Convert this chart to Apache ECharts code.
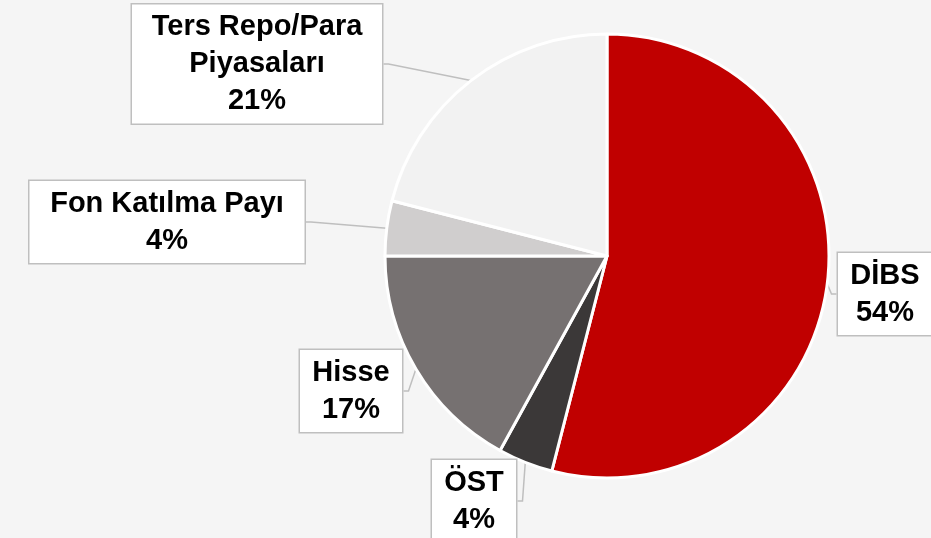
<!DOCTYPE html>
<html>
<head>
<meta charset="utf-8">
<script src="https://cdn.jsdelivr.net/npm/echarts@6/dist/echarts.min.js"></script>
<style>
html,body{margin:0;padding:0;background:#f5f5f5;}
#chart{width:931px;height:538px;}
</style>
</head>
<body>
<div id="chart"></div>
<script>
var categories = ['DİBS', 'ÖST', 'Hisse', 'Fon Katılma Payı', 'Ters Repo/Para\nPiyasaları'];
var values = [54, 4, 17, 4, 21];
var colors = ['#C00000', '#3B3838', '#767171', '#D0CECE', '#F2F2F2'];
// label box layout (centers and widths, layout only)
var labelPos = [[885, 294], [474, 501], [351, 391], [167, 222], [257, 64]];
var labelBoxW = [94, 84, 102, 275, 250];

var chart = echarts.init(document.getElementById('chart'));
chart.setOption({
  backgroundColor: '#f5f5f5',
  animation: false,
  series: [{
    type: 'pie',
    center: [607, 256],
    radius: 222,
    startAngle: 90,
    clockwise: true,
    data: categories.map(function (c, i) {
      return {
        name: c,
        value: values[i],
        itemStyle: { color: colors[i] },
        label: { width: labelBoxW[i] }
      };
    }),
    itemStyle: { borderColor: '#ffffff', borderWidth: 3 },
    label: {
      show: true,
      position: 'outside',
      formatter: '{b}\n{c}%',
      fontFamily: 'Liberation Sans, Arial, sans-serif',
      fontWeight: 'bold',
      fontSize: 29,
      lineHeight: 37,
      color: '#000',
      align: 'center',
      overflow: 'none',
      backgroundColor: '#ffffff',
      borderColor: '#bfbfbf',
      borderWidth: 1.5,
      padding: [4, 0]
    },
    labelLine: {
      show: true,
      length: 5,
      length2: 5,
      lineStyle: { color: '#bfbfbf', width: 1.5 }
    },
    labelLayout: function (p) {
      var pos = labelPos[p.dataIndex];
      return { x: pos[0], y: pos[1], align: 'center', verticalAlign: 'middle' };
    }
  }]
});
</script>
</body>
</html>
